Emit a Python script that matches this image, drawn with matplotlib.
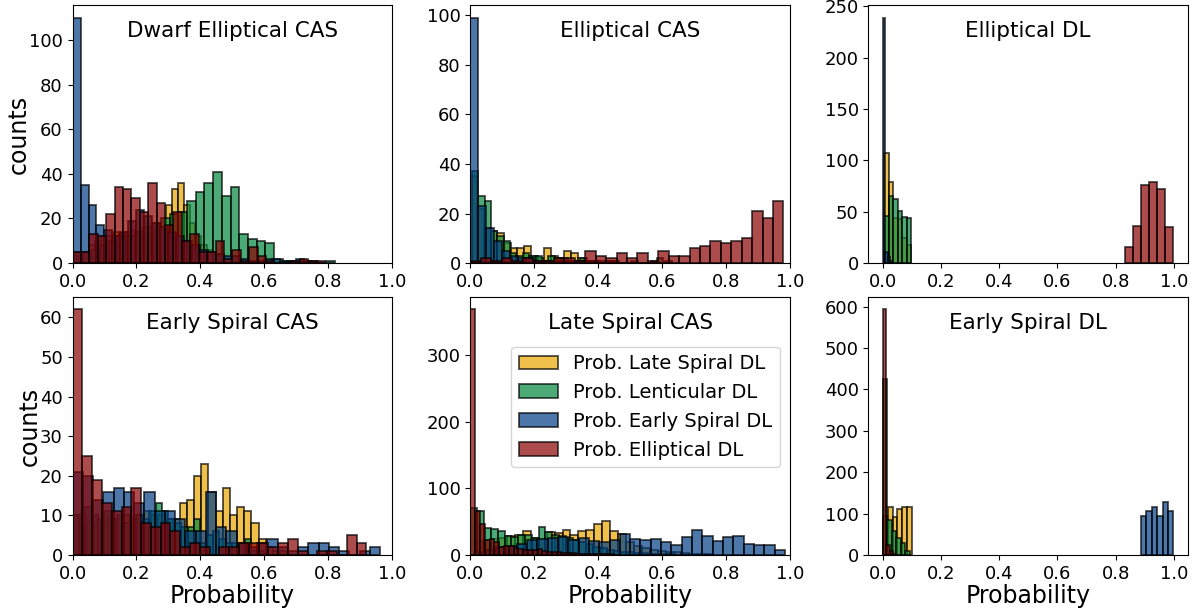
import numpy as np
import matplotlib
matplotlib.use("Agg")
import matplotlib.pyplot as plt

# series order: Late Spiral, Lenticular, Early Spiral, Elliptical (DL probabilities)
labels = ["Prob. Late Spiral DL", "Prob. Lenticular DL",
          "Prob. Early Spiral DL", "Prob. Elliptical DL"]
colors = ["#e9a600", "#00873d", "#003d83", "#8b0000"]

titles = ["Dwarf Elliptical CAS", "Elliptical CAS", "Elliptical DL",
          "Early Spiral CAS", "Late Spiral CAS", "Early Spiral DL"]

# (lo, hi) of the bins for each series, per panel
dec_ranges = [(0.015, 0.57), (0.004, 0.822), (0.0, 0.75), (0.0, 0.79)]
dec_late = [3, 5, 8, 10, 12, 12, 14, 13, 14, 15, 14, 12, 13, 16, 15, 26, 33, 36, 26, 18,
            12, 8, 6, 4, 3, 2, 1, 1, 0, 1]
dec_lent = [5, 5, 6, 8, 10, 12, 12, 14, 16, 18, 20, 22, 23, 28, 32, 36, 41, 30, 34, 13,
            11, 10, 9, 2, 1, 1, 1, 1, 0, 1]
dec_early = [110, 35, 26, 17, 15, 12, 14, 19, 24, 21, 18, 16, 14, 12, 10, 8, 6, 5, 4, 3,
             3, 2, 1, 1, 2, 2, 1, 1, 2, 1]
dec_ell = [5, 5, 13, 12, 22, 34, 33, 29, 23, 36, 27, 17, 23, 10, 13, 5, 5, 10, 2, 6,
           1, 7, 3, 1, 0, 0, 1, 2, 1, 1]

ec_ranges = [(0.0, 0.63), (0.004, 0.604), (0.0, 0.4), (0.0, 0.98)]
ec_late = [35, 22, 14, 13, 12, 8, 6, 6, 7, 3, 2, 6, 3, 2, 5, 4, 2, 1, 1, 1,
           1, 1, 0, 0, 1, 0, 0, 0, 0, 1]
ec_lent = [37, 27, 25, 13, 11, 9, 4, 3, 4, 3, 3, 1, 3, 2, 2, 1, 1, 2, 1, 1,
           0, 1, 1, 0, 0, 0, 0, 0, 1, 2]
ec_early = [99, 23, 14, 9, 5, 3, 2, 2, 1, 1, 1, 1, 1, 1, 1, 1]
ec_ell = [1, 2, 1, 2, 1, 2, 1, 1, 2, 2, 1, 5, 3, 2, 4, 2, 4, 1, 5, 3,
          3, 6, 7, 9, 8, 9, 10, 21, 18, 25]

edl_ranges = [(0.005, 0.098), (0.005, 0.098), (0.0, 0.032), (0.832, 0.998)]
edl_late = [107, 79, 44, 43, 24, 18]
edl_lent = [46, 65, 62, 51, 45, 44]
edl_early = [239, 11, 6, 2]
edl_ell = [16, 36, 76, 79, 72, 35]

esc_ranges = [(0.0, 0.672), (0.0, 0.6), (0.0, 0.963), (0.0, 0.92)]
esc_late = [10, 9, 8, 8, 8, 9, 9, 10, 9, 10, 11, 10, 10, 9, 9, 13, 14, 20, 23, 16,
            11, 17, 10, 12, 11, 8, 4, 2, 1, 1]
esc_lent = [10, 8, 12, 10, 9, 11, 9, 10, 8, 9, 10, 9, 11, 13, 11, 9, 8, 7, 7, 9,
            3, 5, 6, 4, 3, 3, 3, 4, 1, 1]
esc_early = [21, 20, 14, 16, 17, 16, 13, 16, 11, 11, 9, 6, 6, 16, 7, 6, 3, 2, 3, 4,
             2, 1, 2, 3, 3, 2, 1, 0, 1, 2]
esc_ell = [62, 25, 19, 13, 11, 12, 17, 8, 7, 8, 6, 2, 3, 2, 0, 2, 2, 3, 3, 3,
           2, 3, 4, 1, 0, 1, 1, 0, 5, 3]

lsc_ranges = [(0.015, 0.76), (0.0, 0.64), (0.015, 0.985), (0.0, 0.45)]
lsc_late = [20, 22, 24, 26, 28, 30, 36, 26, 24, 35, 33, 38, 30, 36, 37, 46, 51, 36, 31, 20,
            14, 10, 8, 6, 5, 4, 3, 2, 1, 1]
lsc_lent = [70, 66, 40, 39, 36, 29, 27, 30, 30, 25, 42, 35, 30, 28, 25, 22, 20, 17, 12, 10,
            8, 6, 4, 4, 3, 3, 2, 1, 1, 1]
lsc_early = [5, 8, 12, 14, 16, 22, 24, 25, 27, 22, 25, 21, 20, 22, 32, 24, 22, 24, 19, 15,
             27, 38, 28, 21, 27, 29, 16, 15, 15, 8]
lsc_ell = [368, 66, 46, 22, 24, 20, 12, 14, 13, 10, 9, 8, 7, 8, 9, 6, 5, 5, 4, 3,
           3, 3, 2, 2, 2, 1, 1, 1, 1, 1]

esdl_ranges = [(0.0, 0.1), (0.0, 0.093), (0.887, 0.998), (0.0, 0.046)]
esdl_late = [94, 115, 91, 111, 115, 115]
esdl_lent = [426, 85, 59, 40, 28, 10]
esdl_early = [93, 107, 117, 93, 127, 106]
esdl_ell = [593, 25, 10, 3]

x_ticks = [0.0, 0.2, 0.4, 0.6, 0.8, 1.0]

panels = [
    (dec_ranges, [dec_late, dec_lent, dec_early, dec_ell]),
    (ec_ranges, [ec_late, ec_lent, ec_early, ec_ell]),
    (edl_ranges, [edl_late, edl_lent, edl_early, edl_ell]),
    (esc_ranges, [esc_late, esc_lent, esc_early, esc_ell]),
    (lsc_ranges, [lsc_late, lsc_lent, lsc_early, lsc_ell]),
    (esdl_ranges, [esdl_late, esdl_lent, esdl_early, esdl_ell]),
]


def draw_hist(ax, lo, hi, counts, color, label):
    edges = np.linspace(lo, hi, len(counts) + 1)
    centers = 0.5 * (edges[:-1] + edges[1:])
    ax.hist(centers, bins=edges, weights=counts, color=color, alpha=0.7,
            edgecolor="black", linewidth=1.3, label=label)


fig, axes = plt.subplots(2, 3, figsize=(11.97, 6.09), dpi=100)
fig.subplots_adjust(left=0.0606, right=0.9923, bottom=0.0887, top=0.9913,
                    wspace=0.246, hspace=0.132)

for i, (ax, (ranges, series)) in enumerate(zip(axes.flat, panels)):
    for (lo, hi), counts, color, label in zip(ranges, series, colors, labels):
        draw_hist(ax, lo, hi, counts, color, label)
    ax.text(0.5, 0.9, titles[i], transform=ax.transAxes, ha="center",
            va="center", fontsize=15.5)
    ax.set_xticks(x_ticks)
    if i % 3 != 2:
        ax.set_xlim(0, 1)
    ax.tick_params(labelsize=13)
    if i % 3 == 0:
        ax.set_ylabel("counts", fontsize=17, labelpad=-1)
    if i >= 3:
        ax.set_xlabel("Probability", fontsize=17, labelpad=1)

axes[1, 1].legend(loc="upper right", bbox_to_anchor=(1.0, 0.846), fontsize=14)

fig.savefig("out.png", dpi=100)
